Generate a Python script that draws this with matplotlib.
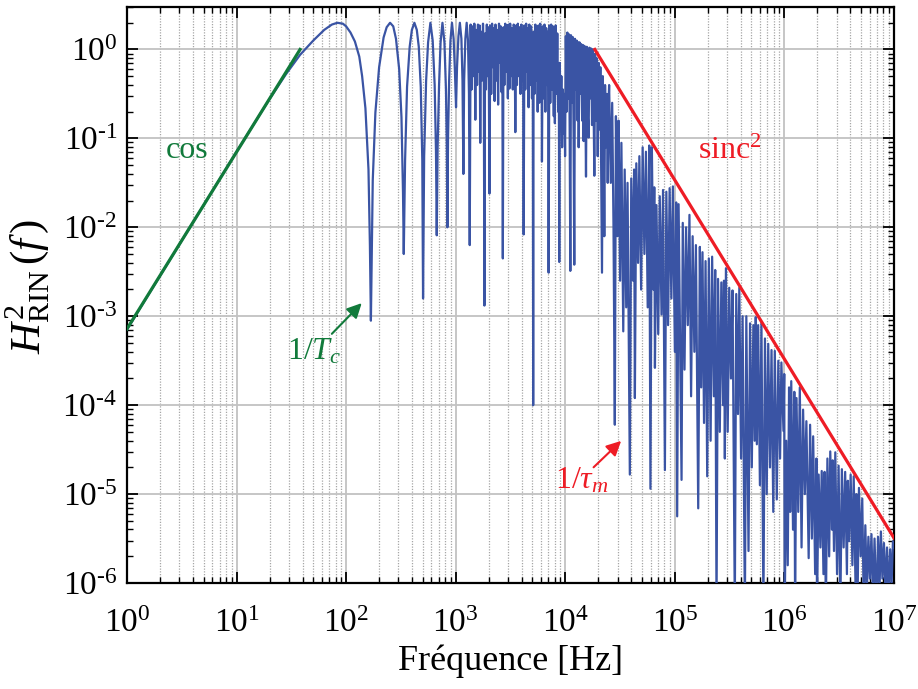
import numpy as np
import matplotlib

matplotlib.use("Agg")
import matplotlib.pyplot as plt
from matplotlib.ticker import LogLocator, FixedLocator, FuncFormatter, NullFormatter

# values as (log10 f [Hz], log10 H^2)
lobes = [
    (0.00, -3.15), (0.50, -2.15), (1.00, -1.15), (1.30, -0.56), (1.45, -0.28),
    (1.58, -0.06), (1.70, 0.10), (1.80, 0.22), (1.87, 0.28), (1.92, 0.30),
    (1.97, 0.29), (2.00, 0.26), (2.04, 0.19), (2.08, 0.09), (2.12, -0.08),
    (2.146, -0.30), (2.176, -0.66), (2.204, -1.35), (2.217, -2.2), (2.226, -3.05),
    (2.243, -1.47), (2.267, -0.71), (2.301, -0.20), (2.342, 0.135), (2.37, 0.25),
    (2.401, 0.30), (2.43, 0.26), (2.455, 0.12), (2.484, -0.22), (2.505, -0.76),
    (2.519, -1.61), (2.526, -2.30),
    (2.538, -1.25), (2.556, -0.42), (2.580, 0.03), (2.60, 0.22), (2.623, 0.30),
    (2.645, 0.22), (2.663, 0.03), (2.681, -0.42), (2.695, -1.24), (2.702, -2.80),
    (2.712, -1.2), (2.730, -0.35), (2.748, 0.08), (2.769, 0.30), (2.790, 0.10),
    (2.808, -0.40), (2.820, -1.15), (2.827, -2.09),
    (2.835, -1.1), (2.848, -0.4), (2.862, 0.08), (2.879, 0.30), (2.897, 0.08),
    (2.911, -0.45), (2.919, -1.1), (2.924, -2.0),
    (2.930, -1.0), (2.940, -0.35), (2.952, 0.10), (2.966, 0.30), (2.981, 0.12),
    (2.993, -0.25), (3.003, -0.65),
    (3.012, -0.2), (3.025, 0.15), (3.038, 0.30), (3.052, 0.12), (3.062, -0.35),
    (3.070, -1.40),
    (3.077, -0.35), (3.088, 0.12), (3.100, 0.30), (3.112, 0.10), (3.121, -0.5),
    (3.128, -2.2),
]

band = [
    (3.136, 0.28), (3.145, -0.45), (3.153, 0.26), (3.162, -0.30), (3.170, 0.29),
    (3.179, -0.79), (3.187, 0.22), (3.195, -0.40), (3.203, 0.28), (3.211, -0.25),
    (3.218, 0.27), (3.224, -1.05), (3.231, 0.20), (3.240, -0.35), (3.249, 0.29),
    (3.256, -0.10), (3.262, -2.88), (3.268, 0.18), (3.276, -0.45), (3.284, 0.28),
    (3.292, -0.30), (3.300, 0.25), (3.308, -1.62), (3.316, 0.27), (3.324, -0.50),
    (3.332, 0.29), (3.340, -0.20), (3.348, 0.24), (3.355, -0.58), (3.363, 0.28),
    (3.371, -0.35), (3.379, 0.22), (3.387, -0.62), (3.395, 0.29), (3.403, -0.15),
    (3.411, 0.26), (3.419, -0.48), (3.425, 0.20), (3.430, -2.35), (3.436, 0.25),
    (3.444, -0.40), (3.452, 0.29), (3.460, -0.25), (3.468, 0.27), (3.476, -0.55),
    (3.483, 0.28), (3.490, -0.44), (3.497, 0.29), (3.505, -0.30), (3.513, 0.24),
    (3.521, -0.45), (3.529, 0.28), (3.537, 0.22), (3.544, -0.93), (3.551, 0.27),
    (3.559, -0.40), (3.567, 0.29), (3.575, -0.30), (3.583, 0.25), (3.591, -0.50),
    (3.599, 0.28), (3.607, -0.35), (3.614, 0.22), (3.620, -2.08), (3.627, 0.27),
    (3.635, -0.45), (3.643, 0.29), (3.651, -0.25), (3.658, 0.24), (3.665, -0.65),
    (3.672, 0.28), (3.680, -0.40), (3.688, 0.26), (3.696, -0.55), (3.703, 0.15),
    (3.707, -4.00), (3.711, 0.20), (3.719, -0.50), (3.727, 0.28), (3.735, -0.35),
    (3.742, 0.25), (3.748, -0.70), (3.755, 0.27), (3.763, -0.60), (3.771, 0.29),
    (3.779, -0.45), (3.783, 0.20), (3.787, -1.26), (3.794, 0.26), (3.802, -0.55),
    (3.810, 0.28), (3.818, -0.70), (3.826, 0.24), (3.834, -0.40), (3.842, 0.20),
    (3.848, -2.51), (3.855, 0.27), (3.863, -0.60), (3.871, 0.28), (3.879, -0.45),
    (3.887, 0.26), (3.895, -0.75), (3.899, 0.25), (3.905, -0.83), (3.912, 0.27),
    (3.920, -0.50), (3.927, 0.18), (3.935, -0.70), (3.941, -0.20), (3.945, -2.39),
    (3.950, -0.15), (3.957, -0.80), (3.964, -0.30), (3.971, -1.10), (3.978, -0.45),
    (3.985, -0.95), (3.992, -0.50), (3.998, -1.20),
    (4.005, 0.15), (4.012, -0.70), (4.019, 0.19), (4.027, -0.55), (4.034, 0.17),
    (4.040, -0.90), (4.046, -2.49), (4.052, 0.16), (4.060, -0.60), (4.068, 0.14),
    (4.076, -1.00), (4.082, -2.42), (4.088, 0.12), (4.096, -0.45), (4.104, 0.10),
    (4.112, -0.80), (4.118, 0.08), (4.122, -1.10), (4.130, 0.08), (4.138, -0.50),
    (4.146, 0.06), (4.154, -0.80), (4.162, 0.05), (4.167, -1.03), (4.175, 0.04),
    (4.183, -0.60), (4.189, -1.43), (4.196, 0.03), (4.204, -0.70), (4.213, -0.99),
    (4.220, 0.02), (4.228, -0.55), (4.236, 0.01), (4.244, -0.85), (4.252, 0.00),
    (4.258, -0.60), (4.265, -1.42), (4.272, -0.05), (4.280, -0.80), (4.288, -0.10),
    (4.296, -1.20), (4.304, -0.15), (4.312, -0.90), (4.320, -0.20), (4.328, -1.50),
    (4.335, -2.51), (4.342, -0.30), (4.350, -1.00), (4.356, -2.10), (4.363, -0.40),
    (4.371, -1.10), (4.379, -0.50), (4.387, -1.50), (4.395, -0.60),
]

rolloff = [
    (4.400, -0.40), (4.415, -1.50), (4.428, -0.60), (4.440, -2.00), (4.452, -4.22),
    (4.462, -0.75), (4.476, -2.10), (4.486, -0.80), (4.500, -2.60), (4.512, -1.05),
    (4.529, -3.17), (4.542, -1.35), (4.556, -2.90), (4.568, -1.50), (4.589, -4.78),
    (4.602, -1.45), (4.618, -2.60), (4.628, -1.35), (4.635, -3.92), (4.648, -1.28),
    (4.664, -2.40), (4.676, -1.20), (4.692, -2.70), (4.706, -1.10), (4.722, -2.30),
    (4.736, -1.15), (4.752, -2.90), (4.766, -1.08), (4.777, -4.94), (4.790, -1.10),
    (4.804, -2.70), (4.812, -1.55), (4.818, -3.58), (4.832, -1.75), (4.848, -3.20),
    (4.862, -1.65), (4.878, -2.98), (4.892, -1.58), (4.909, -4.73), (4.922, -1.60),
    (4.938, -3.10), (4.952, -1.56), (4.968, -2.80), (4.982, -1.54), (5.000, -3.40),
    (5.012, -1.72), (5.021, -5.25), (5.034, -1.74), (5.048, -3.30), (5.061, -4.84),
    (5.072, -1.95), (5.088, -3.60), (5.102, -2.00), (5.118, -3.10), (5.133, -1.86),
    (5.148, -3.90), (5.162, -2.10), (5.178, -3.40), (5.192, -2.20), (5.213, -5.16),
    (5.228, -2.22), (5.240, -3.80), (5.252, -2.28), (5.266, -4.20), (5.280, -2.38),
    (5.295, -4.80), (5.310, -2.35), (5.326, -4.40), (5.340, -2.33), (5.356, -3.90),
    (5.368, -2.48), (5.380, -6.30), (5.394, -2.58), (5.410, -4.30), (5.424, -2.62),
    (5.440, -4.00), (5.448, -2.60), (5.456, -4.60), (5.466, -2.46), (5.482, -4.30),
    (5.496, -2.68), (5.512, -3.70), (5.526, -2.71), (5.547, -6.30), (5.560, -2.75),
    (5.576, -4.10), (5.588, -2.68), (5.604, -4.60), (5.618, -3.00), (5.639, -6.30),
    (5.652, -3.00), (5.672, -5.64), (5.686, -3.08), (5.702, -4.70), (5.716, -3.10),
    (5.728, -4.40), (5.738, -3.01), (5.748, -4.44), (5.760, -3.10), (5.776, -4.90),
    (5.790, -3.07), (5.808, -6.30), (5.822, -3.25), (5.838, -5.00), (5.852, -3.31),
    (5.868, -4.70), (5.882, -3.38), (5.898, -5.20), (5.912, -3.39), (5.930, -5.06),
    (5.944, -3.50), (5.960, -4.60), (5.972, -3.52), (5.991, -4.29), (5.998, -3.65),
    (6.003, -6.30), (6.016, -4.40), (6.030, -5.80), (6.042, -3.80), (6.052, -5.20),
    (6.062, -3.73), (6.078, -5.40), (6.090, -3.85), (6.097, -6.30), (6.110, -3.92),
    (6.126, -5.20), (6.140, -3.80), (6.156, -5.60), (6.170, -4.05), (6.186, -5.00),
    (6.200, -4.18), (6.221, -5.72), (6.234, -4.22), (6.250, -5.50), (6.262, -4.35),
    (6.280, -5.90), (6.292, -4.60), (6.297, -6.30), (6.312, -4.78), (6.328, -5.60),
    (6.340, -4.74), (6.356, -5.90), (6.366, -4.75), (6.378, -6.30), (6.392, -4.60),
    (6.408, -5.70), (6.418, -4.52), (6.434, -5.40), (6.440, -4.62), (6.452, -5.64),
    (6.464, -4.53), (6.480, -5.90), (6.494, -4.68), (6.510, -6.30), (6.524, -4.72),
    (6.540, -5.60), (6.554, -4.75), (6.570, -5.90), (6.578, -4.85), (6.590, -5.53),
    (6.604, -4.78), (6.620, -5.80), (6.632, -4.80), (6.648, -6.00), (6.656, -5.00),
    (6.666, -6.30), (6.680, -4.93), (6.696, -5.70), (6.710, -5.05), (6.724, -6.30),
    (6.738, -5.35), (6.752, -6.10), (6.766, -5.48), (6.780, -5.95), (6.794, -5.45),
    (6.808, -6.20), (6.822, -5.50), (6.840, -6.30), (6.854, -5.48), (6.868, -6.05),
    (6.880, -5.42), (6.894, -5.95), (6.908, -5.55), (6.922, -6.10), (6.936, -5.60),
    (6.950, -6.20), (6.964, -5.62), (6.978, -6.00), (6.990, -5.53), (7.000, -5.60),
]

# asymptotes
cos_f = [1.0, 38.0]
cos_h = [7.2e-4, 1.0]
sinc_f = [1.86e4, 1.0e7]
sinc_h = [1.0, 3.2e-6]

# decade ticks shown on each axis
x_decades = [0, 1, 2, 3, 4, 5, 6, 7]
y_decades = [-6, -5, -4, -3, -2, -1, 0]

BLUE = "#3a54a4"
GREEN = "#117a3b"
RED = "#ee1c25"

plt.rcParams.update({
    "font.family": ["Liberation Serif", "DejaVu Serif"],
    "mathtext.fontset": "custom",
    "mathtext.rm": "Liberation Serif",
    "mathtext.it": "Liberation Serif:italic",
    "mathtext.bf": "Liberation Serif:bold",
})


def pow10_label(v, _pos):
    e = int(round(np.log10(v)))
    s = ("\u2010" if e < 0 else "") + str(abs(e))
    return r"$10^{%s}$" % s


fig = plt.figure(figsize=(9.18, 6.89), dpi=100)
ax = fig.add_axes([0.1383, 0.1538, 0.8356, 0.836])

curve = np.array(lobes + band + rolloff)
ax.plot(10 ** curve[:, 0], 10 ** curve[:, 1], color=BLUE, lw=1.6, zorder=3)
ax.plot(cos_f, cos_h, color=GREEN, lw=2.3, zorder=4)
ax.plot(sinc_f, sinc_h, color=RED, lw=2.3, zorder=4)

ax.set_xscale("log")
ax.set_yscale("log")
ax.set_xlim(1, 1e7)
ax.set_ylim(1e-6, 3)

ax.xaxis.set_major_locator(FixedLocator([10.0 ** e for e in x_decades]))
ax.yaxis.set_major_locator(FixedLocator([10.0 ** e for e in y_decades]))
for axis in (ax.xaxis, ax.yaxis):
    axis.set_minor_locator(LogLocator(base=10, subs=np.arange(2, 10), numticks=200))
    axis.set_major_formatter(FuncFormatter(pow10_label))
    axis.set_minor_formatter(NullFormatter())

ax.tick_params(which="both", direction="in", top=True, right=True)
ax.tick_params(which="major", length=8, width=1.3, labelsize=24)
ax.tick_params(axis="x", which="major", pad=18)
ax.tick_params(axis="y", which="major", pad=7)
ax.tick_params(which="minor", length=4.5, width=1.0)
for sp in ax.spines.values():
    sp.set_linewidth(1.6)

ax.grid(True, which="major", color="#c2c2c2", lw=1.3, ls="-", zorder=0)
ax.xaxis.grid(True, which="minor", color="#a6a6a6", lw=0.9, ls=(0, (1, 1.2)), zorder=0)
ax.set_axisbelow(True)

ax.set_xlabel("Fréquence [Hz]", fontsize=26, labelpad=4)
ax.set_ylabel(r"$H^2_{\mathrm{RIN}}\,(f\,)$", fontsize=31)
ax.yaxis.set_label_coords(-0.098, 0.515)

ax.text(10 ** 0.552, 10 ** -1.137, "cos", color=GREEN, fontsize=23, ha="center", va="center")
ax.text(10 ** 5.21, 10 ** -1.15, r"sinc$^2$", color=RED, fontsize=23, ha="left", va="center")
ax.text(10 ** 1.46, 10 ** -3.40, r"$\mathrm{1/}T_c$", color=GREEN, fontsize=23, ha="left", va="center")
ax.text(10 ** 3.905, 10 ** -4.85, r"$\mathrm{1/}\tau_m$", color=RED, fontsize=23, ha="left", va="center")

ax.annotate("", xy=(10 ** 2.16, 10 ** -2.83), xytext=(10 ** 1.852, 10 ** -3.22),
            arrowprops=dict(arrowstyle="-|>", color=GREEN, lw=1.5, mutation_scale=22))
ax.annotate("", xy=(10 ** 4.528, 10 ** -4.38), xytext=(10 ** 4.24, 10 ** -4.72),
            arrowprops=dict(arrowstyle="-|>", color=RED, lw=1.5, mutation_scale=22))

fig.savefig("out.png", dpi=100)
